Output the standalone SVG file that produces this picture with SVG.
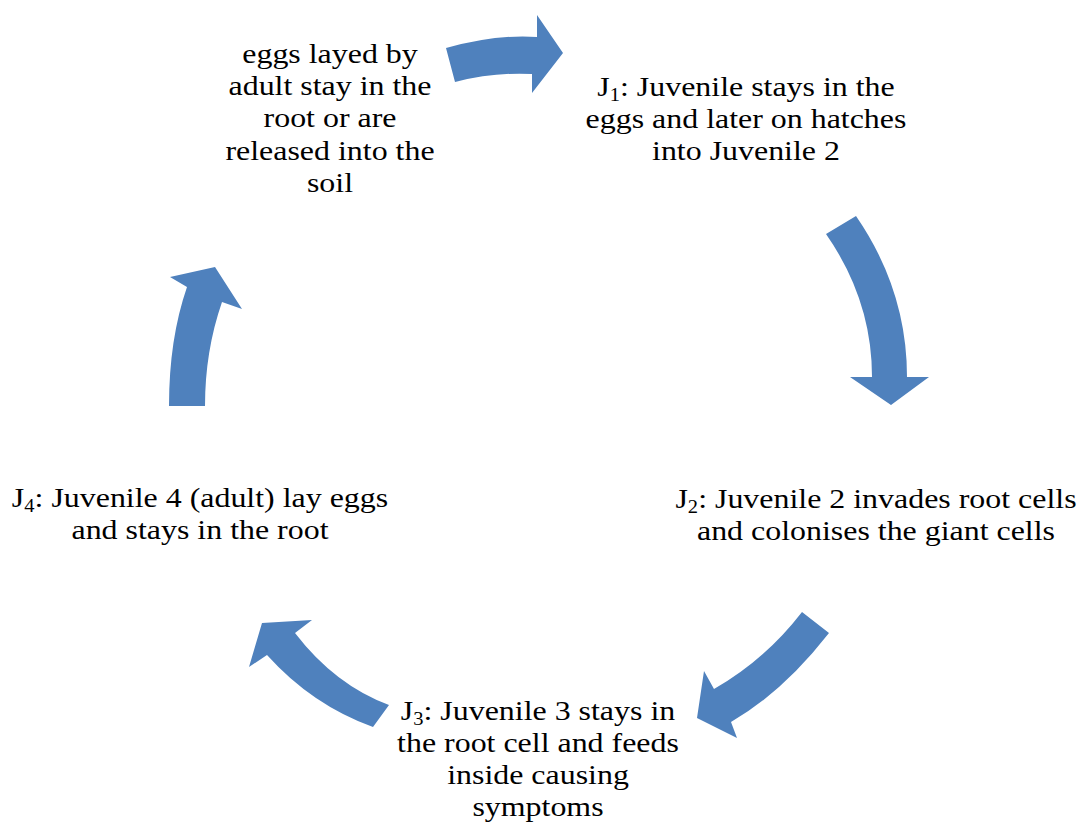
<svg xmlns="http://www.w3.org/2000/svg" width="1082" height="826" viewBox="0 0 1082 826">
<style>
.arrow{fill:#4f81bd;stroke:none}
.lbl{font-family:"Liberation Serif","Times New Roman",serif;font-size:28px;fill:#000;text-anchor:middle}
.sub{font-size:18px}
</style>
<rect width="1082" height="826" fill="#fff"/>
<g id="connectors">
<path class="arrow" d="M446,48 Q497,34 537,37 L537,15 L563,53 L532,93 L532,74 Q494,72 455,82 Z"/>
<path class="arrow" d="M826,234 L856,216 Q907,290 907,377 L929,377 L891,405 L850,377 L872,377 Q872,300 826,234 Z"/>
<path class="arrow" d="M802,612 L829,633 Q783,692 731,722 L737,738 L697,718 L704,671 L714,689 Q765,660 802,612 Z"/>
<path class="arrow" d="M389,705 L373,727 Q312,705 267,655 L249,667 L262,623 L312,620 L295,633 Q335,685 389,705 Z"/>
<path class="arrow" d="M169,406 L205,406 Q205,351 222,302 L242,309 L215,267 L170,277 L187,287 Q169,339 169,406 Z"/>
</g>
<g id="node-eggs" transform="translate(330,0) scale(1.14,1)">
<text class="lbl" y="63"><tspan x="0">eggs layed by</tspan><tspan x="0" dy="32.2">adult stay in the</tspan><tspan x="0" dy="32.2">root or are</tspan><tspan x="0" dy="32.2">released into the</tspan><tspan x="0" dy="32.2">soil</tspan></text>
</g>
<g id="node-j1" transform="translate(746,0) scale(1.14,1)">
<text class="lbl" y="96"><tspan x="0">J<tspan class="sub" dy="5">1</tspan><tspan dy="-5">: Juvenile stays in the</tspan></tspan><tspan x="0" dy="32">eggs and later on hatches</tspan><tspan x="0" dy="32">into Juvenile 2</tspan></text>
</g>
<g id="node-j2" transform="translate(876,0) scale(1.14,1)">
<text class="lbl" y="508"><tspan x="0">J<tspan class="sub" dy="5">2</tspan><tspan dy="-5">: Juvenile 2 invades root cells</tspan></tspan><tspan x="0" dy="32">and colonises the giant cells</tspan></text>
</g>
<g id="node-j3" transform="translate(538,0) scale(1.14,1)">
<text class="lbl" y="720"><tspan x="0">J<tspan class="sub" dy="5">3</tspan><tspan dy="-5">: Juvenile 3 stays in</tspan></tspan><tspan x="0" dy="32">the root cell and feeds</tspan><tspan x="0" dy="32">inside causing</tspan><tspan x="0" dy="32">symptoms</tspan></text>
</g>
<g id="node-j4" transform="translate(200,0) scale(1.14,1)">
<text class="lbl" y="507"><tspan x="0">J<tspan class="sub" dy="5">4</tspan><tspan dy="-5">: Juvenile 4 (adult) lay eggs</tspan></tspan><tspan x="0" dy="32">and stays in the root</tspan></text>
</g>
</svg>
